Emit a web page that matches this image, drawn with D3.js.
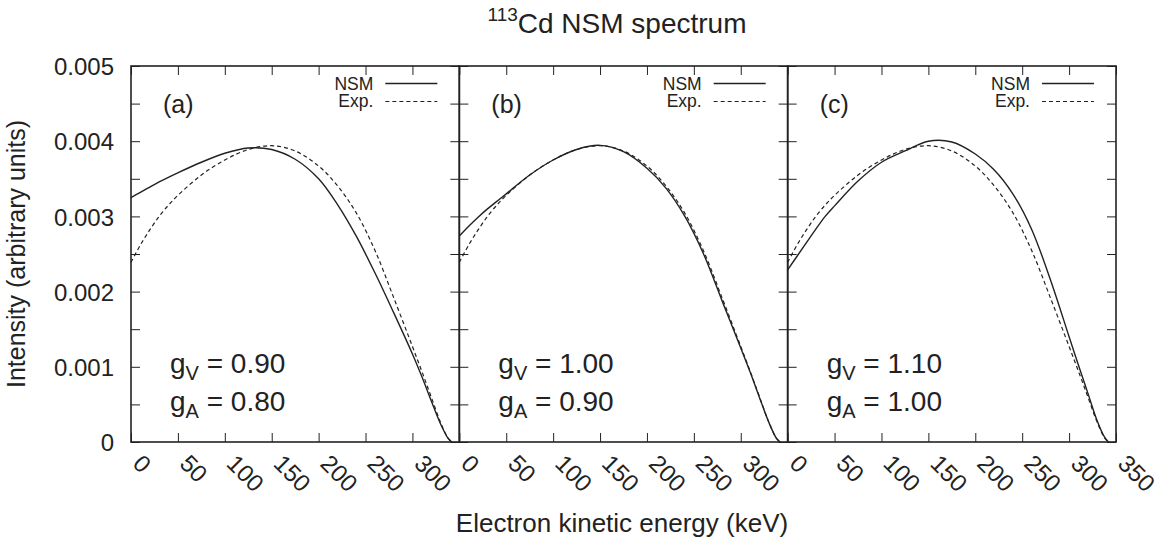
<!DOCTYPE html>
<html>
<head>
<meta charset="utf-8">
<script src="https://cdn.jsdelivr.net/npm/d3@7"></script>
<style>
  body { margin: 0; background: #fff; }
  svg { font-family: "Liberation Sans", Arial, Helvetica, sans-serif; }
  .tick line { stroke: #222; stroke-width: 1; }
  .tick text { fill: #222; }
</style>
</head>
<body>
<svg id="chart" width="1166" height="542"></svg>
<script>
// energies (keV) at which the curves are read
var energy = [0, 10, 20, 30, 40, 50, 75, 100, 125, 150, 175, 200, 220, 240, 260, 280, 300, 310, 320, 330, 338, 342];

// intensities (x 1e-3)
var expSpectrum = [2.39, 2.62, 2.82, 3.00, 3.15, 3.28, 3.55, 3.75, 3.89, 3.94, 3.87, 3.67, 3.41, 3.05, 2.55, 1.92, 1.27, 0.94, 0.60, 0.26, 0.05, 0];
var nsmA = [3.25, 3.32, 3.39, 3.46, 3.52, 3.58, 3.72, 3.84, 3.91, 3.89, 3.76, 3.50, 3.16, 2.74, 2.25, 1.72, 1.17, 0.87, 0.55, 0.24, 0.05, 0];
var nsmB = [2.74, 2.87, 2.99, 3.10, 3.20, 3.30, 3.55, 3.75, 3.89, 3.945, 3.86, 3.64, 3.38, 3.01, 2.51, 1.88, 1.25, 0.93, 0.59, 0.26, 0.05, 0];
var nsmC = [2.29, 2.47, 2.65, 2.83, 3.00, 3.14, 3.47, 3.72, 3.87, 4.00, 3.99, 3.83, 3.62, 3.30, 2.83, 2.16, 1.40, 1.02, 0.65, 0.28, 0.06, 0];

var panelNames = ["(a)", "(b)", "(c)"];
var gV = ["0.90", "1.00", "1.10"];
var gA = ["0.80", "0.90", "1.00"];
var nsmSeries = [nsmA, nsmB, nsmC];

var xTicksAB = [0, 50, 100, 150, 200, 250, 300];
var xTicksC = [0, 50, 100, 150, 200, 250, 300, 350];
var yTicks = d3.range(11).map(function (i) { return i * 0.0005; });

var svg = d3.select("#chart"),
    mLeft = 131, mRight = 1116, mTop = 66, mBottom = 442,
    pw = (mRight - mLeft) / 3,
    ink = "#222";

var y = d3.scaleLinear().domain([0, 0.005]).range([mBottom, mTop]);

function yFormat(d) {
    var k = Math.round(d * 10000);
    if (k % 10 !== 0) return "";
    return k === 0 ? "0" : d3.format(".3f")(d);
}

var line = function (x) {
    return d3.line()
        .x(function (d) { return x(d[0]); })
        .y(function (d) { return y(d[1] / 1000); })
        .curve(d3.curveCatmullRom.alpha(0.5));
};

for (var p = 0; p < 3; p++) {
    var x0 = mLeft + p * pw;
    var x = d3.scaleLinear().domain([0, 350]).range([x0, x0 + pw]);
    var g = svg.append("g");
    var ticks = p === 2 ? xTicksC : xTicksAB;

    // bottom axis with rotated labels
    var ax = g.append("g")
        .attr("transform", "translate(0," + mBottom + ")")
        .call(d3.axisBottom(x).tickValues(ticks).tickSize(-9).tickFormat(d3.format("d")));
    ax.select(".domain").remove();
    ax.selectAll("text")
        .attr("y", 0).attr("dy", 0).attr("x", 0)
        .attr("text-anchor", "start")
        .attr("font-size", 24)
        .attr("transform", "translate(0,23) rotate(45)");

    var at = g.append("g")
        .attr("transform", "translate(0," + mTop + ")")
        .call(d3.axisTop(x).tickValues(ticks).tickSize(-9).tickFormat(""));
    at.select(".domain").remove();

    var al = g.append("g")
        .attr("transform", "translate(" + x0 + ",0)")
        .call(d3.axisLeft(y).tickValues(yTicks).tickSize(-9).tickPadding(17)
            .tickFormat(p === 0 ? yFormat : ""));
    al.select(".domain").remove();
    al.selectAll("text").attr("font-size", 24).attr("dy", "0.36em");

    var ar = g.append("g")
        .attr("transform", "translate(" + (x0 + pw) + ",0)")
        .call(d3.axisRight(y).tickValues(yTicks).tickSize(-9).tickFormat(""));
    ar.select(".domain").remove();

    // curves
    var expPts = energy.map(function (e, i) { return [e, expSpectrum[i]]; });
    var nsmPts = energy.map(function (e, i) { return [e, nsmSeries[p][i]]; });

    g.append("path").attr("d", line(x)(expPts))
        .attr("fill", "none").attr("stroke", ink).attr("stroke-width", 1.2)
        .attr("stroke-dasharray", "4,3");
    g.append("path").attr("d", line(x)(nsmPts))
        .attr("fill", "none").attr("stroke", ink).attr("stroke-width", 1.4);

    // frame
    g.append("rect")
        .attr("x", x0).attr("y", mTop).attr("width", pw).attr("height", mBottom - mTop)
        .attr("fill", "none").attr("stroke", ink).attr("stroke-width", 1.6);

    // legend
    var xr = x0 + pw;
    g.append("text").attr("x", xr - 86).attr("y", 90).attr("text-anchor", "end")
        .attr("font-size", 17.5).attr("fill", ink).text("NSM");
    g.append("line").attr("x1", xr - 74).attr("x2", xr - 22).attr("y1", 83.5).attr("y2", 83.5)
        .attr("stroke", ink).attr("stroke-width", 1.4);
    g.append("text").attr("x", xr - 86).attr("y", 107).attr("text-anchor", "end")
        .attr("font-size", 17.5).attr("fill", ink).text("Exp.");
    g.append("line").attr("x1", xr - 74).attr("x2", xr - 22).attr("y1", 101.5).attr("y2", 101.5)
        .attr("stroke", ink).attr("stroke-width", 1.2).attr("stroke-dasharray", "4,3");

    // panel label and couplings
    g.append("text").attr("x", x0 + 32).attr("y", 113)
        .attr("font-size", 25).attr("fill", ink).text(panelNames[p]);

    var t1 = g.append("text").attr("x", x0 + 39).attr("y", 373)
        .attr("font-size", 28).attr("fill", ink);
    t1.append("tspan").text("g");
    t1.append("tspan").attr("font-size", 20).attr("dy", 7).text("V");
    t1.append("tspan").attr("dy", -7).text(" = " + gV[p]);

    var t2 = g.append("text").attr("x", x0 + 39).attr("y", 411)
        .attr("font-size", 28).attr("fill", ink);
    t2.append("tspan").text("g");
    t2.append("tspan").attr("font-size", 20).attr("dy", 7).text("A");
    t2.append("tspan").attr("dy", -7).text(" = " + gA[p]);
}

// title and axis titles
var title = svg.append("text").attr("x", 617).attr("y", 33).attr("text-anchor", "middle")
    .attr("font-size", 28).attr("fill", ink);
title.append("tspan").attr("font-size", 19).attr("dy", -12).text("113");
title.append("tspan").attr("dy", 12).text("Cd NSM spectrum");

svg.append("text").attr("x", 622).attr("y", 532).attr("text-anchor", "middle")
    .attr("font-size", 26).attr("fill", ink).text("Electron kinetic energy (keV)");

svg.append("text").attr("transform", "translate(25," + ((mTop + mBottom) / 2) + ") rotate(-90)")
    .attr("text-anchor", "middle").attr("font-size", 25).attr("fill", ink)
    .text("Intensity (arbitrary units)");
</script>
</body>
</html>
